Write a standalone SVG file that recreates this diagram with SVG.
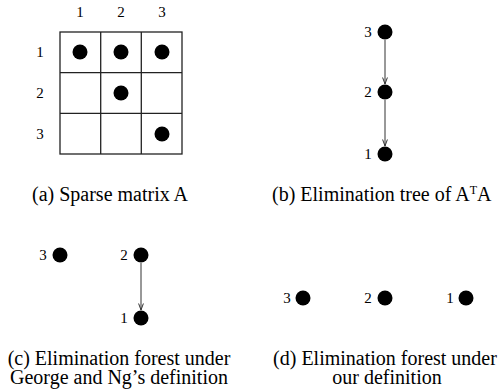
<svg xmlns="http://www.w3.org/2000/svg" width="498" height="392" viewBox="0 0 498 392">
<defs>
<style>
.cap{font-size:20px}
.lbl{font-size:15px}
.dot{fill:#000}
.grid{fill:none;stroke:#222;stroke-width:1.3}
.edge{stroke:#333;stroke-width:1;fill:none}
</style>
<marker id="ah" markerWidth="8" markerHeight="8" refX="7.5" refY="4" orient="auto" markerUnits="userSpaceOnUse" viewBox="0 0 8 8">
<path d="M1,1.6 L7.5,4 L1,6.4" fill="none" stroke="#333" stroke-width="1"/>
</marker>
</defs>
<rect width="498" height="392" fill="#fff"/>
<g font-family="'Liberation Serif', 'DejaVu Serif', serif" fill="#000">

<g id="matrix">
<rect class="grid" x="60" y="32" width="122" height="122"/>
<line class="grid" x1="100.7" y1="32" x2="100.7" y2="154"/>
<line class="grid" x1="141.3" y1="32" x2="141.3" y2="154"/>
<line class="grid" x1="60" y1="72.7" x2="182" y2="72.7"/>
<line class="grid" x1="60" y1="113.3" x2="182" y2="113.3"/>
<text class="lbl" x="80" y="17" text-anchor="middle">1</text>
<text class="lbl" x="121" y="17" text-anchor="middle">2</text>
<text class="lbl" x="162" y="17" text-anchor="middle">3</text>
<text class="lbl" x="40" y="57" text-anchor="middle">1</text>
<text class="lbl" x="40" y="98" text-anchor="middle">2</text>
<text class="lbl" x="40" y="139" text-anchor="middle">3</text>
<circle class="dot" cx="80" cy="52" r="7.5"/>
<circle class="dot" cx="121" cy="52" r="7.5"/>
<circle class="dot" cx="162" cy="52" r="7.5"/>
<circle class="dot" cx="121" cy="93" r="7.5"/>
<circle class="dot" cx="162" cy="134" r="7.5"/>
<text class="cap" x="32" y="201">(a) Sparse matrix A</text>
</g>

<g id="connectors">
<line class="edge" x1="385" y1="40" x2="385" y2="84" marker-end="url(#ah)"/>
<line class="edge" x1="385" y1="100" x2="385" y2="146" marker-end="url(#ah)"/>
<line class="edge" x1="141" y1="263" x2="141" y2="310" marker-end="url(#ah)"/>
</g>

<g id="b-node3"><circle class="dot" cx="385" cy="32" r="7.5"/><text class="lbl" x="368" y="37" text-anchor="middle">3</text></g>
<g id="b-node2"><circle class="dot" cx="385" cy="92" r="7.5"/><text class="lbl" x="368" y="97" text-anchor="middle">2</text></g>
<g id="b-node1"><circle class="dot" cx="385" cy="154" r="7.5"/><text class="lbl" x="368" y="159" text-anchor="middle">1</text></g>
<text class="cap" x="272" y="201">(b) Elimination tree of A<tspan font-size="12" dy="-7">T</tspan><tspan dy="7">A</tspan></text>

<g id="c-node3"><circle class="dot" cx="60" cy="255" r="7.5"/><text class="lbl" x="43" y="260" text-anchor="middle">3</text></g>
<g id="c-node2"><circle class="dot" cx="141" cy="255" r="7.5"/><text class="lbl" x="124" y="260" text-anchor="middle">2</text></g>
<g id="c-node1"><circle class="dot" cx="141" cy="318" r="7.5"/><text class="lbl" x="124" y="323" text-anchor="middle">1</text></g>
<text class="cap" text-anchor="middle"><tspan x="119" y="365">(c) Elimination forest under</tspan><tspan x="119" y="384">George and Ng’s definition</tspan></text>

<g id="d-node3"><circle class="dot" cx="303" cy="298" r="7.5"/><text class="lbl" x="287" y="303" text-anchor="middle">3</text></g>
<g id="d-node2"><circle class="dot" cx="385" cy="298" r="7.5"/><text class="lbl" x="368" y="303" text-anchor="middle">2</text></g>
<g id="d-node1"><circle class="dot" cx="466" cy="298" r="7.5"/><text class="lbl" x="450" y="303" text-anchor="middle">1</text></g>
<text class="cap" text-anchor="middle"><tspan x="385" y="365">(d) Elimination forest under</tspan><tspan x="387" y="384">our definition</tspan></text>
</g>
</svg>
